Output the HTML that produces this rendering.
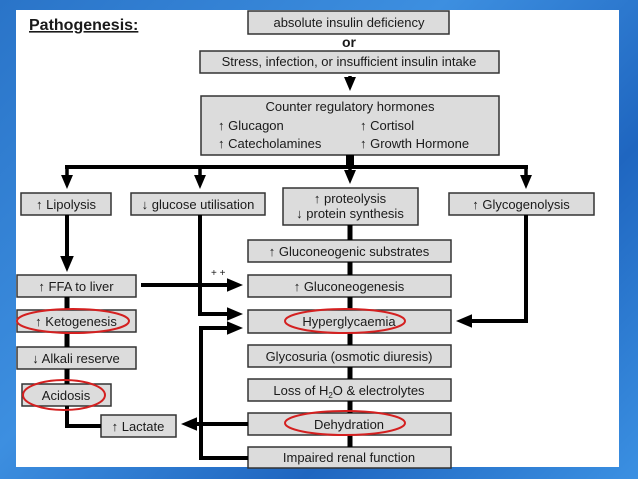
<!DOCTYPE html>
<html><head><style>
html,body{margin:0;padding:0}
body{width:638px;height:479px;overflow:hidden;background:linear-gradient(135deg,#2a74c8,#3d8fe0 40%,#1f66c0 70%,#3b90e2);}
svg{position:absolute;left:0;top:0}
text{font-family:"Liberation Sans",sans-serif;font-size:13px;fill:#1a1a1a}
</style></head><body>
<svg width="638" height="479" viewBox="0 0 638 479">
<defs><marker id="a" markerWidth="4" markerHeight="4" refX="2" refY="2" orient="auto" markerUnits="strokeWidth" viewBox="0 0 4 4"><path d="M0,0.3 L4,2 L0,3.7 z" fill="#000"/></marker></defs>
<rect x="16" y="10" width="603" height="457" fill="#fff"/>
<text x="29" y="30" style="font-size:16px;font-weight:bold;text-decoration:underline">Pathogenesis:</text>
<g fill="#dcdcdc" stroke="#333" stroke-width="1.5">
<rect x="248" y="11" width="201" height="23"/>
<rect x="200" y="51" width="299" height="22"/>
<rect x="201" y="96" width="298" height="59"/>
<rect x="21" y="193" width="90" height="22"/>
<rect x="131" y="193" width="134" height="22"/>
<rect x="283" y="188" width="135" height="37"/>
<rect x="449" y="193" width="145" height="22"/>
<rect x="248" y="240" width="203" height="22"/>
<rect x="248" y="275" width="203" height="22"/>
<rect x="248" y="310" width="203" height="23"/>
<rect x="248" y="345" width="203" height="22"/>
<rect x="248" y="379" width="203" height="22"/>
<rect x="248" y="413" width="203" height="22"/>
<rect x="248" y="447" width="203" height="21"/>
<rect x="17" y="275" width="119" height="22"/>
<rect x="17" y="310" width="119" height="22"/>
<rect x="17" y="347" width="119" height="22"/>
<rect x="22" y="384" width="89" height="22"/>
<rect x="101" y="415" width="75" height="22"/>
</g>
<g stroke="#000" stroke-width="4" fill="none">
<line x1="350" y1="76" x2="350" y2="84" marker-end="url(#a)" stroke-width="3.5"/>
<line x1="350" y1="155" x2="350" y2="167" stroke-width="8"/>
<line x1="65" y1="167" x2="528" y2="167"/>
<line x1="67" y1="167" x2="67" y2="182" marker-end="url(#a)" stroke-width="3.5"/>
<line x1="200" y1="167" x2="200" y2="182" marker-end="url(#a)" stroke-width="3.5"/>
<line x1="350" y1="167" x2="350" y2="177" marker-end="url(#a)" stroke-width="3.5"/>
<line x1="526" y1="167" x2="526" y2="182" marker-end="url(#a)" stroke-width="3.5"/>
<line x1="67" y1="215" x2="67" y2="264" marker-end="url(#a)"/>
<line x1="141" y1="285" x2="235" y2="285" marker-end="url(#a)"/>
<polyline points="200,215 200,314 235,314" marker-end="url(#a)"/>
<polyline points="248,458 201,458 201,328 235,328" marker-end="url(#a)"/>
<line x1="248" y1="424" x2="189" y2="424" marker-end="url(#a)"/>
<polyline points="526,215 526,321 464,321" marker-end="url(#a)"/>
<polyline points="67,406 67,426 101,426"/>
</g>
<g stroke="#000" stroke-width="5">
<line x1="350" y1="225" x2="350" y2="240"/><line x1="350" y1="262" x2="350" y2="275"/>
<line x1="350" y1="297" x2="350" y2="310"/><line x1="350" y1="333" x2="350" y2="345"/>
<line x1="350" y1="367" x2="350" y2="379"/><line x1="350" y1="401" x2="350" y2="413"/>
<line x1="350" y1="435" x2="350" y2="447"/>
<line x1="67" y1="297" x2="67" y2="310"/><line x1="67" y1="332" x2="67" y2="347"/>
<line x1="67" y1="369" x2="67" y2="384"/>
</g>
<g text-anchor="middle">
<text x="349" y="27">absolute insulin deficiency</text>
<text x="349" y="47" style="font-weight:bold;font-size:14px">or</text>
<text x="349" y="66">Stress, infection, or insufficient insulin intake</text>
<text x="350" y="111">Counter regulatory hormones</text>
<text x="66" y="209">↑ Lipolysis</text>
<text x="198" y="209">↓ glucose utilisation</text>
<text x="350" y="203">↑ proteolysis</text>
<text x="350" y="218">↓ protein synthesis</text>
<text x="521" y="209">↑ Glycogenolysis</text>
<text x="349" y="256">↑ Gluconeogenic substrates</text>
<text x="349" y="291">↑ Gluconeogenesis</text>
<text x="349" y="326">Hyperglycaemia</text>
<text x="349" y="361">Glycosuria (osmotic diuresis)</text>
<text x="349" y="395">Loss of H<tspan style="font-size:8px" dy="3">2</tspan><tspan dy="-3">O &amp; electrolytes</tspan></text>
<text x="349" y="429">Dehydration</text>
<text x="349" y="462">Impaired renal function</text>
<text x="76" y="291">↑ FFA to liver</text>
<text x="76" y="326">↑ Ketogenesis</text>
<text x="76" y="363">↓ Alkali reserve</text>
<text x="66" y="400">Acidosis</text>
<text x="138" y="431">↑ Lactate</text>
</g>
<text x="218" y="130">↑ Glucagon</text>
<text x="218" y="148">↑ Catecholamines</text>
<text x="360" y="130">↑ Cortisol</text>
<text x="360" y="148">↑ Growth Hormone</text>
<text x="211" y="276" style="font-size:10px">+ +</text>
<g fill="none" stroke="#d42020" stroke-width="2">
<ellipse cx="73" cy="321" rx="56" ry="12"/>
<ellipse cx="64" cy="395" rx="41" ry="15"/>
<ellipse cx="345" cy="321" rx="60" ry="12"/>
<ellipse cx="345" cy="423" rx="60" ry="12"/>
</g>
</svg>
</body></html>
